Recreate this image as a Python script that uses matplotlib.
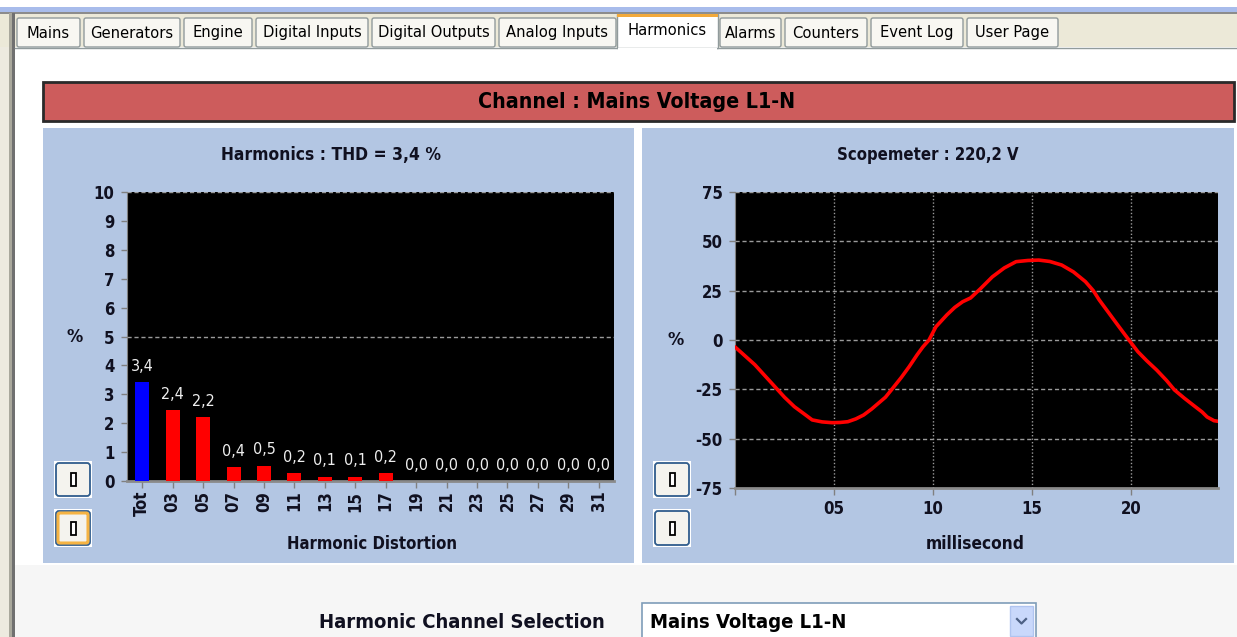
import matplotlib
matplotlib.use("Agg")
import matplotlib.pyplot as plt
from matplotlib.patches import Rectangle, FancyBboxPatch
from matplotlib import font_manager

# ---------------- data ----------------
tab_names = ["Mains", "Generators", "Engine", "Digital Inputs", "Digital Outputs",
             "Analog Inputs", "Harmonics", "Alarms", "Counters", "Event Log", "User Page"]
active_tab = "Harmonics"

channel_title = "Channel : Mains Voltage L1-N"
harm_title = "Harmonics : THD = 3,4 %"
scope_title = "Scopemeter : 220,2 V"

harm_categories = ["Tot", "03", "05", "07", "09", "11", "13", "15", "17",
                   "19", "21", "23", "25", "27", "29", "31"]
harm_values = [3.42, 2.44, 2.22, 0.47, 0.53, 0.26, 0.15, 0.15, 0.26,
               0.0, 0.0, 0.0, 0.0, 0.0, 0.0, 0.0]
harm_yticks = [0, 1, 2, 3, 4, 5, 6, 7, 8, 9, 10]

scope_ms = [0.0, 0.5, 1.0, 1.5, 2.0, 2.5, 3.0, 3.5, 3.9, 4.4, 4.9, 5.3, 5.7, 6.1,
            6.5, 6.9, 7.25, 7.6, 7.9, 8.4, 8.8, 9.2, 9.5, 9.8, 10.15, 10.7,
            11.1, 11.5, 11.9, 12.4, 13.0, 13.6, 14.2, 14.8, 15.35, 15.9, 16.5,
            17.1, 17.7, 18.1, 18.4, 18.9, 19.4, 19.9, 20.35, 20.8, 21.3, 21.8,
            22.2, 22.7, 23.25, 23.6, 23.85, 24.2, 24.4]
scope_pct = [-3.5, -8.0, -12.5, -18.0, -23.5, -29.0, -33.8, -37.5, -40.5, -41.5,
             -41.9, -41.8, -41.4, -40.0, -38.0, -35.0, -32.0, -29.0, -25.3, -19.0,
             -13.5, -7.5, -3.4, 0.0, 6.7, 12.7, 16.5, 19.4, 21.3, 26.0, 32.0,
             36.5, 39.7, 40.3, 40.5, 39.8, 38.0, 34.5, 29.6, 25.0, 20.3, 13.5,
             6.7, 0.0, -5.9, -10.5, -15.2, -20.5, -25.3, -29.5, -33.8, -36.5,
             -39.0, -40.9, -41.2]
scope_yticks = [-75, -50, -25, 0, 25, 50, 75]
scope_xticks = [0, 5, 10, 15, 20]
scope_xticklabels = ["", "05", "10", "15", "20"]

selection_label = "Harmonic Channel Selection"
selection_value = "Mains Voltage L1-N"

# ---------------- fonts ----------------
plt.rcParams["font.family"] = ["DejaVu Sans"]
plt.rcParams["font.stretch"] = "condensed"
has_cond = any("ondensed" in f.fname for f in font_manager.fontManager.ttflist
               if f.name == "DejaVu Sans")
if not has_cond:
    plt.rcParams["font.family"] = ["Liberation Sans", "DejaVu Sans"]
    plt.rcParams["font.stretch"] = "normal"

W, H = 1237, 637
fig = plt.figure(figsize=(W / 100, H / 100), dpi=100)

bg = fig.add_axes([0, 0, 1, 1])
bg.set_xlim(0, W)
bg.set_ylim(H, 0)
bg.axis("off")

PANEL = "#B3C6E3"
TXT = "#101020"
TICK_FS = 12

def rect(x, y, w, h, fc, ec="none", lw=0, z=1, **kw):
    bg.add_patch(Rectangle((x, y), w, h, facecolor=fc, edgecolor=ec, linewidth=lw, zorder=z, **kw))

# window background
rect(0, 0, W, H, "white", z=0)
rect(0, 7, W, 5, "#A8BCEB", z=1)
rect(0, 12, W, 1.5, "#8C8C8C", z=1)
rect(0, 13.5, W, 34, "#ECE9D8", z=1)
rect(15, 47, W - 15, 518, "white", z=1)
rect(15, 565, W - 15, H - 565, "#F6F6F6", z=1)
rect(0, 47, 9, H - 47, "#EDEADF", z=1)
rect(9, 13, 3, H - 13, "#A9A89C", z=2)
rect(12, 13, 3, H - 13, "#707070", z=2)
bg.plot([15, W], [47.5, 47.5], color="#919B9C", lw=1, zorder=3)

# tabs
tab_edges = [(17, 80), (84, 180), (184, 252), (256, 368), (372, 495), (499, 616),
             (617, 718), (720, 781), (785, 867), (871, 963), (967, 1058)]
for name, (x0, x1) in zip(tab_names, tab_edges):
    if name == active_tab:
        rect(x0, 14, x1 - x0, 34, "white", ec="#919B9C", lw=1, z=4)
        rect(x0 + 1, 48, x1 - x0 - 2, 2, "white", z=5)
        rect(x0, 14, x1 - x0, 3, "#F2A93B", z=5)
        bg.text((x0 + x1) / 2, 30.5, name, ha="center", va="center", fontsize=11.8, color="black", zorder=6)
    else:
        bg.add_patch(FancyBboxPatch((x0, 18), x1 - x0, 29, boxstyle="round,pad=0,rounding_size=2",
                                    facecolor="#F8F7F2", edgecolor="#919B9C", lw=1, zorder=4))
        bg.text((x0 + x1) / 2, 33, name, ha="center", va="center", fontsize=11.8, color="black", zorder=6)

# channel title bar
rect(43, 82, 1191, 39, "#CD5C5C", ec="#2A2A2A", lw=2, z=3)
bg.text(637, 101.5, channel_title, ha="center", va="center", fontsize=15.3, fontweight="bold",
        color="black", zorder=4)

# panels
rect(43, 128, 591, 435, PANEL, z=3)
rect(642, 128, 592, 435, PANEL, z=3)

def button(x, y, w, h, focused=False):
    bg.add_patch(Rectangle((x - 2, y - 2), w + 4, h + 4, facecolor="white", edgecolor="none", zorder=4))
    bg.add_patch(FancyBboxPatch((x, y), w, h, boxstyle="round,pad=0,rounding_size=3",
                                facecolor="#F4F3EE", edgecolor="#2F5C8C", lw=1.3, zorder=5))
    if focused:
        bg.add_patch(FancyBboxPatch((x + 2, y + 2), w - 4, h - 4, boxstyle="round,pad=0,rounding_size=2",
                                    facecolor="none", edgecolor="#F5B343", lw=2.2, zorder=6))
    cx, cy = x + w / 2, y + h / 2
    bg.add_patch(Rectangle((cx - 2.5, cy - 6.5), 5, 13, facecolor="white", edgecolor="black", lw=1.3, zorder=7))

button(56, 463, 34, 33)
button(56, 511, 34, 34, focused=True)
button(655, 463, 34, 33)
button(655, 511, 34, 34)

# bottom selection
bg.text(605, 622, selection_label, ha="right", va="center", fontsize=14.5, fontweight="bold",
        color=TXT, zorder=4)
rect(642, 603, 394, 40, "white", ec="#7F9DB9", lw=1.2, z=3)
rect(1010, 606, 23, 30, "#C9D8FB", ec="#B0C4F0", lw=1, z=4)
bg.plot([1017, 1021.5, 1026], [619, 623.5, 619], color="#4D6185", lw=1.6, zorder=5)
bg.text(650, 623, selection_value, ha="left", va="center", fontsize=14.5, fontweight="bold",
        color="black", zorder=4)

def px_axes(x0, y0, x1, y1):
    return fig.add_axes([x0 / W, 1 - y1 / H, (x1 - x0) / W, (y1 - y0) / H])

# ---------------- harmonics bar chart ----------------
ax1 = px_axes(127, 192, 614, 481)
ax1.set_facecolor("black")
xs = list(range(len(harm_categories)))
colors = ["#0000FF"] + ["#FF0000"] * (len(harm_categories) - 1)
bars = ax1.bar(xs, harm_values, width=0.46, color=colors, zorder=3)
for x, v in zip(xs, harm_values):
    lab = f"{int(v * 10 + 1e-9) / 10:.1f}".replace(".", ",")
    ax1.annotate(lab, (x, v), xytext=(0, 6), textcoords="offset points", ha="center",
                 va="bottom", fontsize=11.5, color="#EEEEEE", zorder=4)
ax1.set_xlim(-0.5, len(harm_categories) - 0.5)
ax1.set_ylim(0, 10)
ax1.set_yticks(harm_yticks)
ax1.set_yticklabels([str(t) for t in harm_yticks], fontsize=TICK_FS, fontweight="bold", color=TXT)
ax1.set_xticks(xs)
ax1.set_xticklabels(harm_categories, rotation=90, fontsize=TICK_FS, fontweight="bold", color=TXT)
for y in (5, 10):
    ax1.axhline(y, color="#9A9A9A", lw=1, ls=(0, (3, 2)), zorder=2)
ax1.tick_params(axis="y", length=4, width=1, color="#808080", pad=5)
ax1.tick_params(axis="x", length=5, width=1, color="#808080", pad=2)
for s in ("top", "right"):
    ax1.spines[s].set_visible(False)
ax1.spines["left"].set_color("#808080")
ax1.spines["bottom"].set_color("#8A8A8A")
ax1.spines["bottom"].set_linewidth(2)
ax1.set_xlabel("Harmonic Distortion", fontsize=12, fontweight="bold", color=TXT)
ax1.xaxis.set_label_coords(0.503, -0.187)
ax1.set_ylabel("%", rotation=0, fontsize=13, fontweight="bold", color=TXT, va="center")
ax1.yaxis.set_label_coords(-0.107, 0.498)
ax1.text(0.419, 1.128, harm_title, transform=ax1.transAxes, ha="center", va="center",
         fontsize=12.5, fontweight="bold", color=TXT)

# ---------------- scopemeter line chart ----------------
ax2 = px_axes(735, 192, 1218, 488)
ax2.set_facecolor("black")
ax2.plot(scope_ms, scope_pct, color="#FF0000", lw=2.6, zorder=4, solid_capstyle="round")
ax2.set_xlim(0, 24.4)
ax2.set_ylim(-75, 75)
ax2.set_yticks(scope_yticks)
ax2.set_yticklabels([str(t) for t in scope_yticks], fontsize=TICK_FS, fontweight="bold", color=TXT)
ax2.set_xticks(scope_xticks)
ax2.set_xticklabels(scope_xticklabels, fontsize=TICK_FS, fontweight="bold", color=TXT)
for y in scope_yticks[1:]:
    ax2.axhline(y, color="#9A9A9A", lw=1, ls=(0, (3, 2)), zorder=2)
for x in scope_xticks[1:]:
    ax2.axvline(x, color="#9A9A9A", lw=1, ls=(0, (1, 1.5)), zorder=2)
ax2.tick_params(axis="y", length=4, width=1, color="#808080", pad=5)
ax2.tick_params(axis="x", length=5, width=1, color="#808080", pad=4)
for s in ("top", "right"):
    ax2.spines[s].set_visible(False)
ax2.spines["left"].set_color("#808080")
ax2.spines["bottom"].set_color("#8A8A8A")
ax2.spines["bottom"].set_linewidth(2)
ax2.set_xlabel("millisecond", fontsize=12.4, fontweight="bold", color=TXT)
ax2.xaxis.set_label_coords(0.497, -0.159)
ax2.set_ylabel("%", rotation=0, fontsize=13, fontweight="bold", color=TXT, va="center")
ax2.yaxis.set_label_coords(-0.122, 0.5)
ax2.text(0.40, 1.125, scope_title, transform=ax2.transAxes, ha="center", va="center",
         fontsize=12, fontweight="bold", color=TXT)

fig.savefig("out.png", dpi=100)
